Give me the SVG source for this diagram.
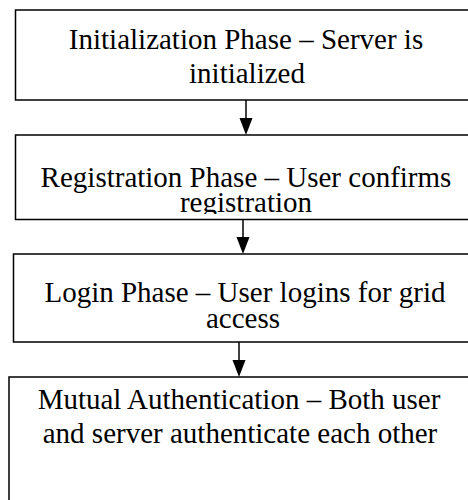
<svg xmlns="http://www.w3.org/2000/svg" width="468" height="500" viewBox="0 0 468 500">
<style>
.box{fill:#fff;stroke:#000;stroke-width:1.5}
.t{font-size:29px;fill:#000;text-anchor:middle}
.c{stroke:#000;stroke-width:1.5;fill:none}
</style>
<defs>
<clipPath id="clip2"><rect x="15" y="135" width="460" height="79"/></clipPath>
</defs>
<g font-family="'Liberation Serif', 'DejaVu Serif', serif">
<g id="node-init">
<rect class="box" x="15.5" y="10" width="470" height="90"/>
<text class="t" x="246" y="49">Initialization Phase – Server is</text>
<text class="t" x="247" y="83">initialized</text>
</g>
<g id="node-register">
<rect class="box" x="15.5" y="135" width="470" height="84.5"/>
<g clip-path="url(#clip2)">
<text class="t" x="246" y="187">Registration Phase – User confirms</text>
<text class="t" x="246" y="212">registration</text>
</g>
</g>
<g id="node-login">
<rect class="box" x="13.5" y="254" width="470" height="88"/>
<text class="t" x="245" y="302">Login Phase – User logins for grid</text>
<text class="t" x="243" y="328">access</text>
</g>
<g id="node-mutual">
<rect class="box" x="9" y="377" width="470" height="140"/>
<text class="t" x="239" y="409">Mutual Authentication – Both user</text>
<text class="t" x="240" y="443">and server authenticate each other</text>
</g>
</g>
<g id="connectors">
<line class="c" x1="246" y1="100" x2="246" y2="118"/>
<path d="M239.5,118 L252.5,118 L246,135 Z" fill="#000"/>
<line class="c" x1="243" y1="219.5" x2="243" y2="237"/>
<path d="M236.5,237 L249.5,237 L243,254 Z" fill="#000"/>
<line class="c" x1="239" y1="342" x2="239" y2="360"/>
<path d="M232.5,360 L245.5,360 L239,377 Z" fill="#000"/>
</g>
</svg>
